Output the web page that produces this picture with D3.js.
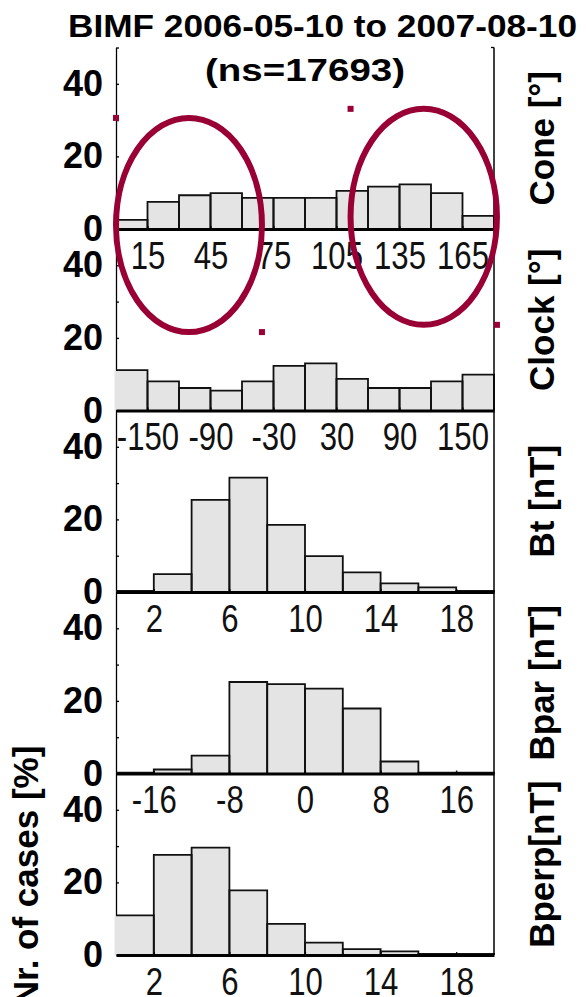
<!DOCTYPE html>
<html lang="en">
<head>
<meta charset="UTF-8">
<title>BIMF histograms</title>
<style>
  body { margin: 0; background: #fff; }
  svg { display: block; }
</style>
</head>
<body>
<script src="https://d3js.org/d3.v7.min.js"></script>
<script>
  // values in % of cases, one per bin
  const coneVals = [2.5, 7.5, 9.3, 9.9, 8.6, 8.6, 8.6, 10.5, 11.7, 12.3, 9.9, 3.6]
  const clockVals = [11.1, 8.0, 6.2, 5.5, 8.0, 12.3, 13.0, 8.7, 6.2, 6.2, 8.0, 9.9]
  const btVals = [0.3, 4.9, 25.4, 31.5, 18.5, 9.9, 5.4, 2.4, 1.3, 0.3]
  const bparVals = [0.2, 1.1, 4.9, 25.2, 24.6, 23.4, 17.9, 3.3, 0.2, 0.2]
  const bperpVals = [10.9, 27.6, 29.6, 17.8, 8.6, 3.4, 1.6, 1.0, 0.3, 0.3]

  const coneTicks = [15, 45, 75, 105, 135, 165]
  const clockTicks = [-150, -90, -30, 30, 90, 150]
  const btTicks = [2, 6, 10, 14, 18]
  const bparTicks = [-16, -8, 0, 8, 16]
  const bperpTicks = [2, 6, 10, 14, 18]
  const yLabels = [0, 20, 40]
  const yMarks = [10, 20, 30, 40, 50]

  // highlight ellipses, in cone-panel units [x0, x1, yBottom, yTop]
  const marks = [[0, 69.5, -28.4, 30.6], [111.7, 181.4, -26.4, 33.1]]

  const width = 586
  const height = 997
  const panelTop = 47.5
  const panelH = 181.5
  const left = 116
  const right = 494
  const red = '#990033'
  const font = "'Liberation Sans', Arial, sans-serif"

  const panels = [
    { name: 'Cone [°]', domain: [0, 180], vals: coneVals, ticks: coneTicks },
    { name: 'Clock [°]', domain: [-180, 180], vals: clockVals, ticks: clockTicks },
    { name: 'Bt [nT]', domain: [0, 20], vals: btVals, ticks: btTicks },
    { name: 'Bpar [nT]', domain: [-20, 20], vals: bparVals, ticks: bparTicks },
    { name: 'Bperp[nT]', domain: [0, 20], vals: bperpVals, ticks: bperpTicks }
  ]

  const svg = d3.select('body')
    .append('svg')
    .attr('width', width)
    .attr('height', height)
    .style('font-family', font)

  const y = d3.scaleLinear().domain([0, 50]).range([panelH, 0])
  let coneX

  panels.forEach((p, i) => {
    const g = svg.append('g').attr('transform', `translate(0,${panelTop + i * panelH})`)
    const x = d3.scaleLinear().domain(p.domain).range([left, right])
    if (i === 0) coneX = x
    const step = (p.domain[1] - p.domain[0]) / p.vals.length
    const bins = p.vals.map((v, j) => ({ x0: p.domain[0] + j * step, x1: p.domain[0] + (j + 1) * step, v }))

    // left axis line + small inward ticks
    g.append('g')
      .attr('transform', `translate(${left},0)`)
      .call(d3.axisLeft(y).tickValues(yMarks).tickSizeInner(-3).tickSizeOuter(0).tickFormat(''))
      .call(a => a.selectAll('line, path').attr('stroke', '#000').attr('stroke-width', 1.3))

    // y labels
    g.append('g')
      .attr('transform', `translate(${left},0)`)
      .call(d3.axisLeft(y).tickValues(yLabels).tickSize(0).tickPadding(13))
      .call(a => a.select('.domain').remove())
      .call(a => a.selectAll('text')
        .attr('font-size', 36)
        .attr('font-weight', 'bold')
        .attr('font-family', font)
        .attr('fill', '#000'))

    // bars
    g.selectAll('rect.bar')
      .data(bins)
      .join('rect')
      .attr('class', 'bar')
      .attr('x', (d, j) => x(d.x0) - (j === 0 ? 1.5 : 0))
      .attr('width', (d, j) => x(d.x1) - x(d.x0) + (j === 0 ? 1.5 : 0))
      .attr('y', d => y(d.v))
      .attr('height', d => y(0) - y(d.v))
      .attr('fill', '#e4e4e4')

    g.selectAll('path.edge')
      .data(bins)
      .join('path')
      .attr('class', 'edge')
      .attr('d', (d, j) => j === 0
        ? `M${x(d.x0)},${y(d.v)}H${x(d.x1)}V${y(0)}`
        : `M${x(d.x0)},${y(0)}V${y(d.v)}H${x(d.x1)}V${y(0)}`)
      .attr('fill', 'none')
      .attr('stroke', '#111')
      .attr('stroke-width', 1.8)

    // x axis: thick zero line, labels hang into the panel below
    g.append('g')
      .attr('transform', `translate(0,${y(0)})`)
      .call(d3.axisBottom(x).tickValues(p.ticks).tickSizeInner(-3).tickSizeOuter(0).tickPadding(13)
        .tickFormat(d => String(d)))
      .call(a => a.select('.domain').attr('stroke', '#000').attr('stroke-width', 3))
      .call(a => a.selectAll('.tick line').attr('stroke', '#000').attr('stroke-width', 1.2))
      .call(a => a.selectAll('text')
        .attr('font-size', 38)
        .attr('font-family', font)
        .attr('fill', '#111')
        .attr('transform', 'scale(0.82,1)'))

    // right-hand label
    svg.append('text')
      .attr('transform', `translate(554,${panelTop + i * panelH + panelH / 2}) rotate(-90)`)
      .attr('text-anchor', 'middle')
      .attr('font-size', 35)
      .attr('font-weight', 'bold')
      .text(p.name)
  })

  // right frame line
  svg.append('line')
    .attr('x1', right).attr('x2', right)
    .attr('y1', panelTop).attr('y2', panelTop + panels.length * panelH)
    .attr('stroke', '#000').attr('stroke-width', 1.5)
  svg.append('line')
    .attr('x1', right - 3).attr('x2', right)
    .attr('y1', panelTop).attr('y2', panelTop)
    .attr('stroke', '#000').attr('stroke-width', 1.3)

  // titles
  svg.append('text')
    .attr('x', 322.5).attr('y', 37)
    .attr('text-anchor', 'middle')
    .attr('font-size', 32).attr('font-weight', 'bold')
    .attr('textLength', 509).attr('lengthAdjust', 'spacingAndGlyphs')
    .text('BIMF 2006-05-10 to 2007-08-10')
  svg.append('text')
    .attr('x', 305).attr('y', 81)
    .attr('text-anchor', 'middle')
    .attr('font-size', 32).attr('font-weight', 'bold')
    .attr('textLength', 200).attr('lengthAdjust', 'spacingAndGlyphs')
    .text('(ns=17693)')

  svg.append('text')
    .attr('transform', 'translate(38,876) rotate(-90)')
    .attr('text-anchor', 'middle')
    .attr('font-size', 35)
    .attr('font-weight', 'bold')
    .text('Nr. of cases [%]')

  // red highlight ellipses with their corner handles
  const ann = svg.append('g').attr('transform', `translate(0,${panelTop})`)
  marks.forEach(m => {
    const x0 = coneX(m[0]), x1 = coneX(m[1]), yb = y(m[2]), yt = y(m[3])
    ann.append('ellipse')
      .attr('cx', (x0 + x1) / 2).attr('cy', (yb + yt) / 2)
      .attr('rx', (x1 - x0) / 2).attr('ry', (yb - yt) / 2)
      .attr('fill', 'none')
      .attr('stroke', red)
      .attr('stroke-width', 6)
    ann.selectAll(null)
      .data([[x0, yt], [x1, yb]])
      .join('rect')
      .attr('x', d => d[0] - 3).attr('y', d => d[1] - 3)
      .attr('width', 6).attr('height', 6)
      .attr('fill', red)
  })
</script>
</body>
</html>
